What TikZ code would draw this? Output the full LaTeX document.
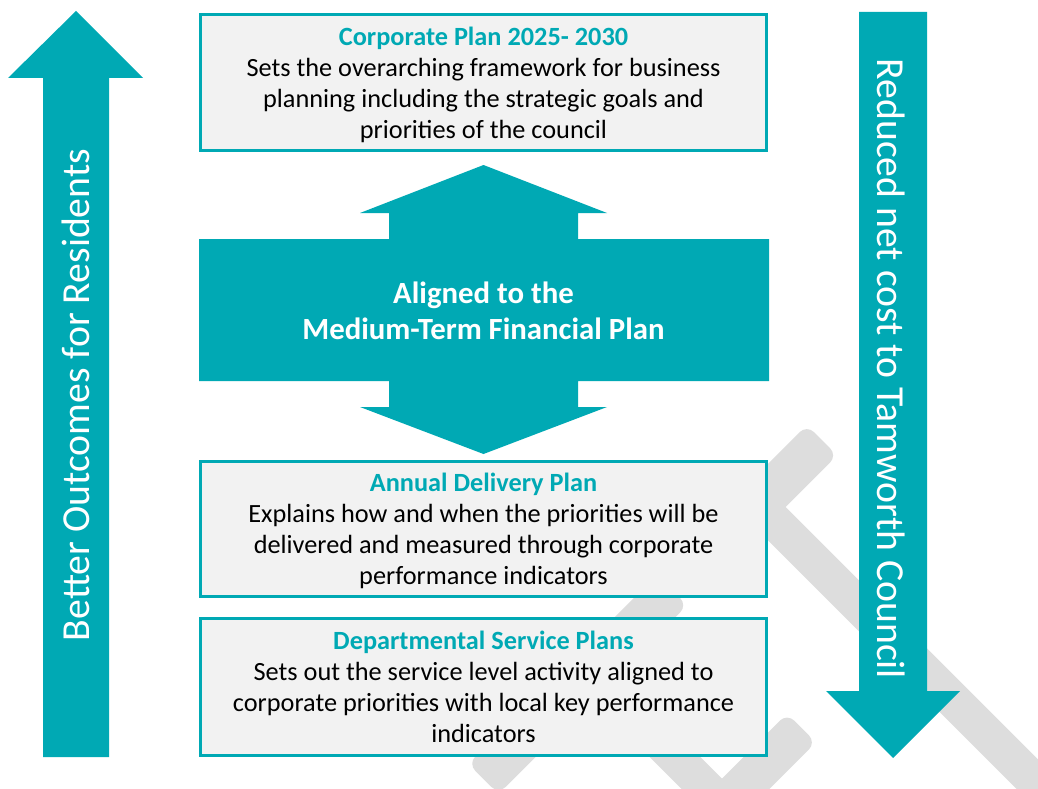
\documentclass[tikz,border=0pt]{standalone}
\usepackage{fontspec}
\setmainfont{Carlito}
\definecolor{teal1}{HTML}{00A9B4}
\definecolor{boxfill}{HTML}{F2F2F2}
\definecolor{wmgrey}{HTML}{DDDDDD}
\begin{document}
\begin{tikzpicture}[x=1pt,y=-1pt,
  planbox/.style={draw=teal1, line width=3pt, fill=boxfill, inner sep=0pt, minimum width=566pt},
  bodytext/.style={align=center, inner sep=0pt, font=\fontsize{26.3}{31}\selectfont, text=black},
  tealshape/.style={fill=teal1},
  wm/.style={fill=wmgrey, rounded corners=10pt},
  arrowtext/.style={text=white, inner sep=0pt, font=\fontsize{39.7}{44}\selectfont}]
\useasboundingbox (0,0) rectangle (1038,789);
\fill[white] (0,0) rectangle (1038,789);
% watermark
\begin{scope}[x={(0.70711pt,0.70711pt)},y={(0.70711pt,-0.70711pt)}]
\fill[wm] (130,871) -- (270,871) -- (270,914) -- (130,914) -- cycle;
\fill[wm] (161,880) -- (197,880) -- (197,1400) -- (161,1400) -- cycle;
\fill[wm] (-209,871) -- (58,871) -- (58,914) -- (-209,914) -- cycle;
\fill[wm] (-76,880) -- (-40,880) -- (-40,1400) -- (-76,1400) -- cycle;
\fill[wm] (-250,1061) -- (52,1061) -- (52,1102) -- (-250,1102) -- cycle;
\end{scope}
% left arrow
\fill[tealshape] (76,11) -- (143,78) -- (109,78) -- (109,757) -- (43,757) -- (43,78) -- (8,78) -- cycle;
\node[arrowtext, rotate=90] (better) at (76,395) {Better Outcomes for Residents};
% right arrow
\fill[tealshape] (859,12) -- (927,12) -- (927,691) -- (960,691) -- (893,758) -- (826,691) -- (859,691) -- cycle;
\node[arrowtext, rotate=-90] (reduced) at (891,369) {Reduced net cost to Tamworth Council};
% middle double arrow
\fill[tealshape] (483.5,165) -- (607,213) -- (578,213) -- (578,239) -- (769,239) -- (769,381)
  -- (578,381) -- (578,407) -- (607,407) -- (483.5,454) -- (360,407) -- (389,407) -- (389,381)
  -- (199,381) -- (199,239) -- (389,239) -- (389,213) -- (360,213) -- cycle;
\node[text=white, align=center, inner sep=0pt, font=\bfseries\fontsize{30.8}{36}\selectfont] (mtfp) at (483.5,311)
  {Aligned to the\\Medium-Term Financial Plan};
% boxes
\node[planbox, minimum height=136pt] (corp) at (483.5,82.5) {};
\node[bodytext] (corptext) at ([yshift=-2pt]corp.center)
  {{\bfseries\color{teal1}Corporate Plan 2025- 2030}\\Sets the overarching framework for business\\planning including the strategic goals and\\priorities of the council};
\node[planbox, minimum height=135pt] (annual) at (483.5,529) {};
\node[bodytext] (annualtext) at ([yshift=-2pt]annual.center)
  {{\bfseries\color{teal1}Annual Delivery Plan}\\Explains how and when the priorities will be\\delivered and measured through corporate\\performance indicators};
\node[planbox, minimum height=137pt] (dept) at (483.5,687) {};
\node[bodytext] (depttext) at (dept.center)
  {{\bfseries\color{teal1}Departmental Service Plans}\\Sets out the service level activity aligned to\\corporate priorities with local key performance\\indicators};
\end{tikzpicture}
\end{document}
